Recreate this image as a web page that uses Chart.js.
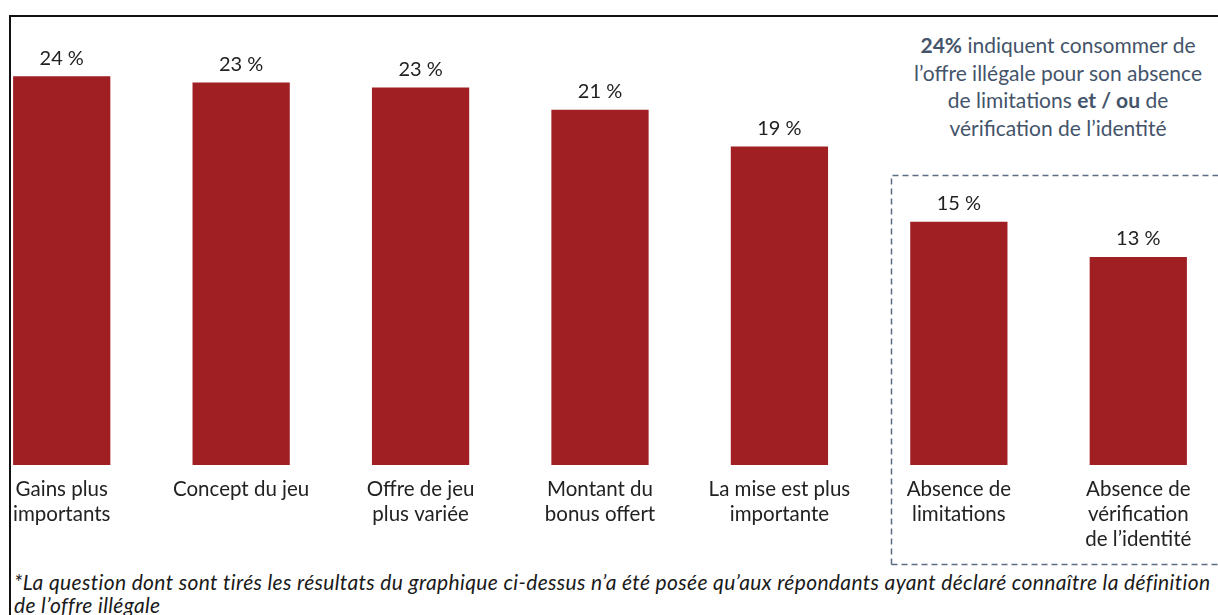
<!DOCTYPE html>
<html>
<head>
<meta charset="utf-8">
<script src="https://cdn.jsdelivr.net/npm/chart.js@4"></script>
<style>
  html, body { margin:0; padding:0; background:#fff; width:1218px; height:615px; overflow:hidden; position:relative; }
  #c { position:absolute; left:-28px; top:0; }
  .frameTop { position:absolute; left:9px; top:15px; width:1215px; height:2px; background:#111; }
  .frameLeft { position:absolute; left:9px; top:15px; width:2px; height:610px; background:#111; }
  svg.dash { position:absolute; left:0; top:0; }
  .note { position:absolute; left:895px; top:31px; width:326px; text-align:center; color:#44546A; font-family:Lato, sans-serif; font-size:21px; line-height:27.5px; white-space:nowrap; }
  .foot { position:absolute; left:14px; top:570px; width:1210px; color:#1a1a1a; font-family:Lato, sans-serif; font-style:italic; font-size:21px; letter-spacing:0.35px; line-height:23px; white-space:nowrap; }
</style>
</head>
<body>
<div class="frameTop"></div>
<div class="frameLeft"></div>
<svg class="dash" width="1218" height="615">
  <path d="M891.5 564.5 L891.5 175.5 L1218 175.5 M891.5 564.5 L1218 564.5" fill="none" stroke="#5b6c84" stroke-width="1.5" stroke-dasharray="6 4"/>
</svg>
<div class="note"><b>24%</b> indiquent consommer de<br>l’offre illégale pour son absence<br>de limitations <b>et / ou</b> de<br>vérification de l’identité</div>
<div class="foot">*La question dont sont tirés les résultats du graphique ci-dessus n’a été posée qu’aux répondants ayant déclaré connaître la définition<br>de l’offre illégale</div>
<canvas id="c" width="1256" height="615"></canvas>
<script>
const categories = [
  ["Gains plus", "importants"],
  ["Concept du jeu"],
  ["Offre de jeu", "plus variée"],
  ["Montant du", "bonus offert"],
  ["La mise est plus", "importante"],
  ["Absence de", "limitations"],
  ["Absence de", "vérification", "de l’identité"]
];
const values = [24.3, 23.9, 23.6, 22.2, 19.9, 15.2, 13.0];
const valueLabels = ["24 %", "23 %", "23 %", "21 %", "19 %", "15 %", "13 %"];
const barColor = "#A01F22";

const labelPlugin = {
  id: "labelPlugin",
  afterDatasetsDraw(chart) {
    const ctx = chart.ctx;
    const meta = chart.getDatasetMeta(0);
    const area = chart.chartArea;
    ctx.save();
    ctx.textAlign = "center";
    ctx.textBaseline = "middle";
    ctx.fillStyle = "#222";
    meta.data.forEach((bar, i) => {
      ctx.font = "20px Lato, sans-serif";
      ctx.fillText(valueLabels[i], bar.x, bar.y - 18);
      ctx.font = "20.5px Lato, sans-serif";
      categories[i].forEach((line, j) => {
        ctx.fillText(line, bar.x, area.bottom + 24 + j * 25);
      });
    });
    ctx.restore();
  }
};

new Chart(document.getElementById("c"), {
  type: "bar",
  data: {
    labels: categories.map(c => c.join(" ")),
    datasets: [{
      data: values,
      backgroundColor: barColor,
      borderWidth: 0,
      categoryPercentage: 1,
      barPercentage: 0.542
    }]
  },
  options: {
    responsive: false,
    animation: false,
    layout: { padding: { top: 17, bottom: 150, left: 0, right: 0 } },
    plugins: { legend: { display: false }, tooltip: { enabled: false } },
    scales: {
      x: { display: false },
      y: { display: false, min: 0, max: 28 }
    }
  },
  plugins: [labelPlugin]
});
</script>
</body>
</html>
